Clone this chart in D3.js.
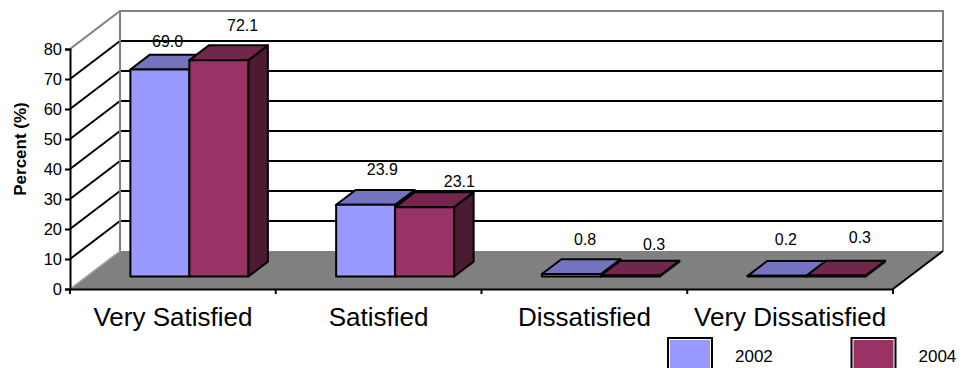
<!DOCTYPE html>
<html>
<head>
<meta charset="utf-8">
<script src="https://cdn.jsdelivr.net/npm/d3@7"></script>
<style>
  html, body { margin: 0; padding: 0; background: #fff; }
  svg { display: block; }
  text { font-family: "Liberation Sans", Arial, sans-serif; fill: #000; }
</style>
</head>
<body>
<svg id="chart" width="967" height="368"></svg>
<script>
// Survey responses by satisfaction level (percent)
const categories = ["Very Satisfied", "Satisfied", "Dissatisfied", "Very Dissatisfied"];
const seriesNames = ["2002", "2004"];
const values2002 = [69.0, 23.9, 0.8, 0.2];
const values2004 = [72.1, 23.1, 0.3, 0.3];
const yTickValues = [0, 10, 20, 30, 40, 50, 60, 70, 80];

// Small nudges for the value labels, one [dx, dy] per bar
const labelShift2002 = [[-2, -8], [7, -15], [4, -14], [-1, -16]];
const labelShift2004 = [[14, -14], [25, -5], [14, -11], [14, -18]];

const faceFront = ["#9999FF", "#993366"];
const faceTop = ["#7373BF", "#73264D"];
const faceSide = ["#5C5C99", "#4D1A33"];

const svg = d3.select("#chart");

// Front plane scales plus an oblique depth offset
const x = d3.scaleBand().domain(categories).range([70, 893]);
const y = d3.scaleLinear().domain([0, 80]).range([289, 49]);
const depthX = 50, depthY = -38;
const sub = d3.scaleBand().domain(seriesNames).range([0, x.bandwidth()]).paddingOuter(0.744);
const barFront = 0.33, barBack = 0.72;

const proj = (px, v, f) => [px + depthX * f, y(v) + depthY * f];
const pts = arr => arr.map(p => p.join(",")).join(" ");

const xL = x.range()[0], xR = x.range()[1];
const grey = "#808080";

// Back wall gridlines
svg.append("g").selectAll("line")
  .data(yTickValues.filter(t => t > 0 && t < 80))
  .join("line")
  .attr("x1", xL + depthX).attr("x2", xR + depthX)
  .attr("y1", t => y(t) + depthY).attr("y2", t => y(t) + depthY)
  .attr("stroke", "#000").attr("stroke-width", 2);

// Side wall gridlines
svg.append("g").selectAll("line")
  .data(yTickValues.filter(t => t > 0 && t < 80))
  .join("line")
  .attr("x1", xL).attr("y1", t => y(t))
  .attr("x2", xL + depthX).attr("y2", t => y(t) + depthY)
  .attr("stroke", "#000").attr("stroke-width", 2);

// Wall outline
svg.append("polyline")
  .attr("points", pts([
    [xL, y(80)], [xL + depthX, y(80) + depthY], [xR + depthX, y(80) + depthY], [xR + depthX, y(0) + depthY]
  ]))
  .attr("fill", "none").attr("stroke", grey).attr("stroke-width", 2);
svg.append("line")
  .attr("x1", xL + depthX).attr("x2", xL + depthX)
  .attr("y1", y(80) + depthY).attr("y2", y(0) + depthY)
  .attr("stroke", grey).attr("stroke-width", 2);

// Floor
svg.append("polygon")
  .attr("points", pts([[xL, y(0)], [xR, y(0)], [xR + depthX, y(0) + depthY], [xL + depthX, y(0) + depthY]]))
  .attr("fill", grey);
svg.append("line")
  .attr("x1", xL).attr("y1", y(0)).attr("x2", xL + depthX).attr("y2", y(0) + depthY)
  .attr("stroke", "#a8a8a8").attr("stroke-width", 1.5);
svg.append("line")
  .attr("x1", xR).attr("y1", y(0)).attr("x2", xR + depthX).attr("y2", y(0) + depthY)
  .attr("stroke", "#000").attr("stroke-width", 2);

// Bars
const bars = [];
categories.forEach((c, i) => {
  [values2002, values2004].forEach((vals, s) => {
    bars.push({ cat: c, s, v: vals[i], shift: (s === 0 ? labelShift2002 : labelShift2004)[i] });
  });
});

const barG = svg.append("g");
bars.forEach(b => {
  const x0 = x(b.cat) + sub(seriesNames[b.s]);
  const x1 = x0 + sub.bandwidth();
  const g = barG.append("g");
  const style = sel => sel.attr("stroke", "#000").attr("stroke-width", 2).attr("stroke-linejoin", "round");
  // right side
  g.append("polygon").call(style).attr("fill", faceSide[b.s])
    .attr("points", pts([proj(x1, 0, barFront), proj(x1, 0, barBack), proj(x1, b.v, barBack), proj(x1, b.v, barFront)]));
  // top
  g.append("polygon").call(style).attr("fill", faceTop[b.s])
    .attr("points", pts([proj(x0, b.v, barFront), proj(x1, b.v, barFront), proj(x1, b.v, barBack), proj(x0, b.v, barBack)]));
  // front
  g.append("polygon").call(style).attr("fill", faceFront[b.s])
    .attr("points", pts([proj(x0, 0, barFront), proj(x1, 0, barFront), proj(x1, b.v, barFront), proj(x0, b.v, barFront)]));
  b.lx = (x0 + x1) / 2 + depthX * (barFront + barBack) / 2;
  b.ly = y(b.v) + depthY * barBack;
});

// Value labels
svg.append("g").selectAll("text")
  .data(bars)
  .join("text")
  .attr("x", b => b.lx + b.shift[0])
  .attr("y", b => b.ly + b.shift[1])
  .attr("text-anchor", "middle")
  .style("font-size", "16px")
  .text(b => d3.format(".1f")(b.v));

// Value axis
const yAxis = svg.append("g").attr("transform", `translate(${xL},0)`)
  .call(d3.axisLeft(y).tickValues(yTickValues).tickSize(5).tickPadding(3));
yAxis.select(".domain").attr("stroke", "#000").attr("stroke-width", 2);
yAxis.selectAll(".tick line").attr("stroke", "#000").attr("stroke-width", 2);
yAxis.selectAll(".tick text").style("font-size", "16.5px")
  .style("font-family", '"Liberation Sans", Arial, sans-serif').attr("fill", "#000");

// Category axis
const xAxis = svg.append("g").attr("transform", `translate(0,${y(0)})`)
  .call(d3.axisBottom(x).tickSize(0).tickPadding(19));
xAxis.select(".domain").attr("stroke", "#000").attr("stroke-width", 2);
xAxis.selectAll(".tick text").style("font-size", "26px")
  .style("font-family", '"Liberation Sans", Arial, sans-serif').attr("fill", "#000");
svg.append("g").selectAll("line")
  .data(d3.range(categories.length + 1))
  .join("line")
  .attr("x1", i => xL + i * x.step()).attr("x2", i => xL + i * x.step())
  .attr("y1", y(0)).attr("y2", y(0) + 5)
  .attr("stroke", "#000").attr("stroke-width", 2);

// Axis title
svg.append("text")
  .attr("transform", `translate(26,${(y(0) + y(80)) / 2 - 20}) rotate(-90)`)
  .attr("text-anchor", "middle")
  .style("font-size", "17px").style("font-weight", "bold")
  .text("Percent (%)");

// Legend
const legend = svg.append("g").selectAll("g")
  .data(seriesNames)
  .join("g")
  .attr("transform", (d, i) => `translate(${668 + i * 183.5},338)`);
legend.append("rect").attr("width", 44).attr("height", 44)
  .attr("fill", "#fff").attr("stroke", "#000").attr("stroke-width", 2);
legend.append("rect").attr("x", 2).attr("y", 2).attr("width", 40).attr("height", 40)
  .attr("fill", (d, i) => faceFront[i]);
legend.append("text").attr("x", 67).attr("y", 24)
  .style("font-size", "17px").text(d => d);
</script>
</body>
</html>
